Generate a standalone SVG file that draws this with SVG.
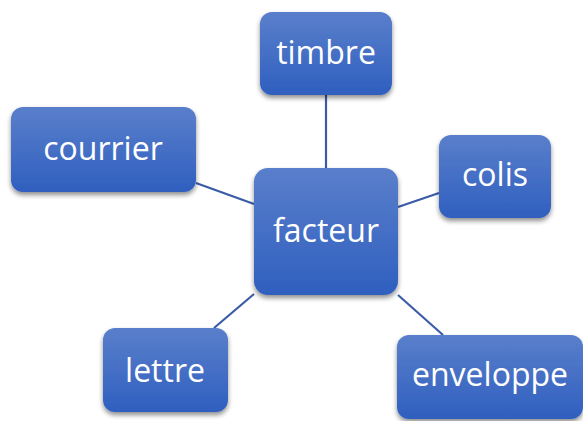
<svg xmlns="http://www.w3.org/2000/svg" width="583" height="421" viewBox="0 0 583 421">
<defs>
<linearGradient id="g" x1="0" y1="0" x2="0" y2="1">
<stop offset="0" stop-color="#5a7fcb"/>
<stop offset="1" stop-color="#2f5fbf"/>
</linearGradient>
<filter id="sh" x="-20%" y="-20%" width="140%" height="150%">
<feGaussianBlur in="SourceAlpha" stdDeviation="2.5"/>
<feOffset dx="0" dy="3" result="b"/>
<feComponentTransfer><feFuncA type="linear" slope="0.45"/></feComponentTransfer>
<feMerge><feMergeNode/><feMergeNode in="SourceGraphic"/></feMerge>
</filter>
</defs>
<style>
.n{fill:url(#g);filter:url(#sh)}
.t{fill:#fff;font-family:"Open Sans","Noto Sans",sans-serif;font-size:32px;text-anchor:middle}
.c{stroke:#3a5ba6;stroke-width:2.2;fill:none}
</style>
<rect width="583" height="421" fill="#fff"/>
<g id="connectors">
<line class="c" x1="326" y1="95" x2="326" y2="168"/>
<line class="c" x1="196" y1="183" x2="254" y2="204"/>
<line class="c" x1="439" y1="193" x2="398" y2="207"/>
<line class="c" x1="214" y1="328" x2="254" y2="294"/>
<line class="c" x1="398" y1="295" x2="443" y2="335"/>
</g>
<g id="facteur"><rect class="n" x="254" y="168" width="144" height="127" rx="14"/><text class="t" x="326" y="242">facteur</text></g>
<g id="timbre"><rect class="n" x="260" y="12" width="132" height="83" rx="12"/><text class="t" x="326" y="64">timbre</text></g>
<g id="courrier"><rect class="n" x="11" y="107" width="185" height="85" rx="12"/><text class="t" x="103" y="160">courrier</text></g>
<g id="colis"><rect class="n" x="439" y="135" width="112" height="83" rx="12"/><text class="t" x="495" y="186">colis</text></g>
<g id="lettre"><rect class="n" x="103" y="328" width="125" height="84" rx="12"/><text class="t" x="165" y="382">lettre</text></g>
<g id="enveloppe"><rect class="n" x="397" y="335" width="186" height="84" rx="12"/><text class="t" x="490" y="386">enveloppe</text></g>
</svg>
